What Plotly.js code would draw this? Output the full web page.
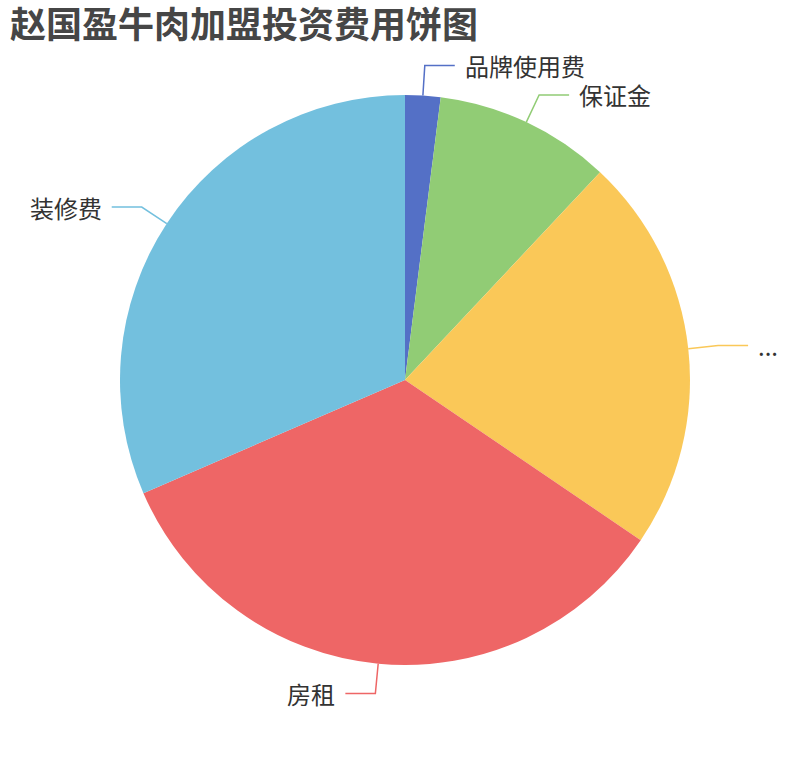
<!DOCTYPE html>
<html>
<head>
<meta charset="utf-8">
<script src="https://cdn.plot.ly/plotly-3.0.1.min.js"></script>
<style>
  html, body { margin: 0; padding: 0; background: #fff; }
  #chart { width: 810px; height: 760px; }
</style>
</head>
<body>
<div id="chart"></div>
<script>
// data
const categories = ['品牌使用费', '保证金', '...', '房租', '装修费'];
const values = [2, 10, 22.5, 34, 31.5];
const colors = ['#5470c6', '#91cc75', '#fac858', '#ee6666', '#73c0de'];

const W = 810, H = 760;
const CX = 405, CY = 380, R = 285;   // pie centre / radius in px
const LEN1 = 30 / R, LEN2 = 30 / R;  // leader line lengths (radius units)
const FONT = '"Noto Sans CJK SC", "Noto Sans", sans-serif';

// pie sits in a domain so its radius is exactly R
const pieTrace = {
    type: 'pie',
    labels: categories,
    values: values,
    sort: false,
    direction: 'clockwise',
    rotation: 0,
    textinfo: 'none',
    hoverinfo: 'none',
    marker: { colors: colors, line: { width: 0 } },
    domain: { x: [(CX - R) / W, (CX + R) / W], y: [(H - CY - R) / H, (H - CY + R) / H] },
    showlegend: false
};

// hidden axes in radius units, centred on the pie -> leader lines + labels
const traces = [];
const annotations = [];
const total = values.reduce((a, b) => a + b, 0);
let acc = 0;
values.forEach((v, i) => {
    const mid = (acc + v / 2) / total * 2 * Math.PI;
    acc += v;
    const sx = Math.sin(mid), cy = Math.cos(mid);
    const bx = (1 + LEN1) * sx, by = (1 + LEN1) * cy;
    const right = bx >= 0;
    const ex = bx + (right ? LEN2 : -LEN2);
    traces.push({
        type: 'scatter', mode: 'lines',
        x: [sx, bx, ex], y: [cy, by, by],
        line: { color: colors[i], width: 1.5 },
        hoverinfo: 'skip', showlegend: false,
        xaxis: 'x', yaxis: 'y', cliponaxis: false
    });
    annotations.push({
        xref: 'x', yref: 'y', x: ex, y: by,
        text: categories[i], showarrow: false,
        xanchor: right ? 'left' : 'right', yanchor: 'middle',
        xshift: right ? 8 : -8,
        font: { family: FONT, size: 24, color: '#333' }
    });
});
traces.push(pieTrace);

const layout = {
    width: W, height: H,
    margin: { l: 0, r: 0, t: 0, b: 0 },
    paper_bgcolor: '#fff', plot_bgcolor: 'rgba(0,0,0,0)',
    title: {
        text: '<b>赵国盈牛肉加盟投资费用饼图</b>',
        x: 10 / W, xanchor: 'left', xref: 'paper',
        y: 1 - 25 / H, yanchor: 'middle', yref: 'container',
        font: { family: FONT, size: 36, color: '#464646' }
    },
    xaxis: { visible: false, range: [-CX / R, (W - CX) / R], domain: [0, 1], fixedrange: true },
    yaxis: { visible: false, range: [-(H - CY) / R, CY / R], domain: [0, 1], fixedrange: true },
    annotations: annotations,
    showlegend: false
};

Plotly.newPlot('chart', traces, layout, { displayModeBar: false, staticPlot: true });
</script>
</body>
</html>
